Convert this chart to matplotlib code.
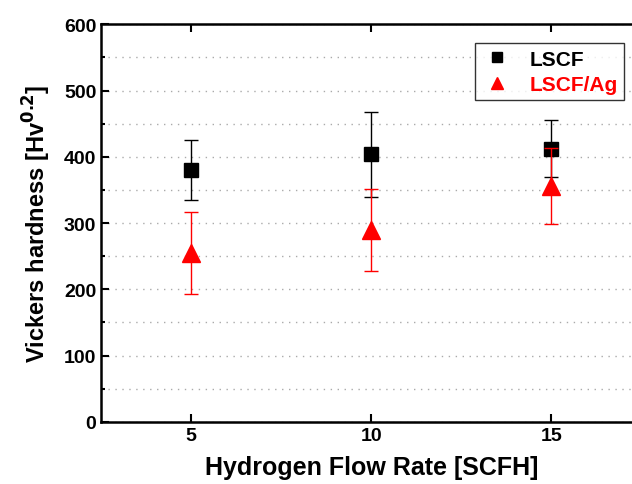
import matplotlib.pyplot as plt
from matplotlib.lines import Line2D
from matplotlib.ticker import MultipleLocator

plt.rcParams['font.family'] = ['Liberation Sans', 'DejaVu Sans']
plt.rcParams['font.weight'] = 'bold'

flow = [5, 10, 15]
lscf = [380, 404, 412]
lscf_err = [45, 64, 43]
lscf_ag = [255, 290, 356]
lscf_ag_err = [62, 62, 57]

fig = plt.figure(figsize=(6.32, 4.85), dpi=100)
ax = fig.add_axes([0.16, 0.128, 0.855, 0.82])

ax.errorbar(flow, lscf, yerr=lscf_err, fmt='s', color='black', ms=10,
            ecolor='black', elinewidth=1, capsize=5, capthick=1, zorder=3)
ax.errorbar(flow, lscf_ag, yerr=lscf_ag_err, fmt='^', color='red', ms=13,
            ecolor='red', elinewidth=1, capsize=5, capthick=1, zorder=4)

ax.set_xlim(2.5, 17.5)
ax.set_ylim(0, 600)
ax.set_xticks(flow)
ax.yaxis.set_major_locator(MultipleLocator(100))
ax.yaxis.set_minor_locator(MultipleLocator(50))
ax.grid(True, which='both', axis='y', linestyle=(0, (1, 4)), color='#aaaaaa', linewidth=1)
ax.set_axisbelow(True)

ax.tick_params(which='both', direction='in', top=True, right=True, width=1.5)
ax.tick_params(which='major', length=6, labelsize=14)
ax.tick_params(which='minor', length=3)
for s in ax.spines.values():
    s.set_linewidth(1.8)

ax.set_xlabel('Hydrogen Flow Rate [SCFH]', fontsize=18, fontweight='bold', labelpad=8)
ax.set_ylabel('Vickers hardness [Hv$^{\\mathbf{0.2}}$]', fontsize=17, fontweight='bold', labelpad=8)

handles = [Line2D([], [], ls='none', marker='s', color='black', ms=7),
           Line2D([], [], ls='none', marker='^', color='red', ms=8)]
leg = ax.legend(handles, ['LSCF', 'LSCF/Ag'], loc='upper right', bbox_to_anchor=(0.967, 0.952),
                borderaxespad=0, fancybox=False, edgecolor='black', fontsize=15,
                handletextpad=0.8, handlelength=1.5, borderpad=0.3, labelspacing=0.3)
leg.get_frame().set_linewidth(1)
leg.get_texts()[1].set_color('red')

plt.savefig('out.png', dpi=100)
